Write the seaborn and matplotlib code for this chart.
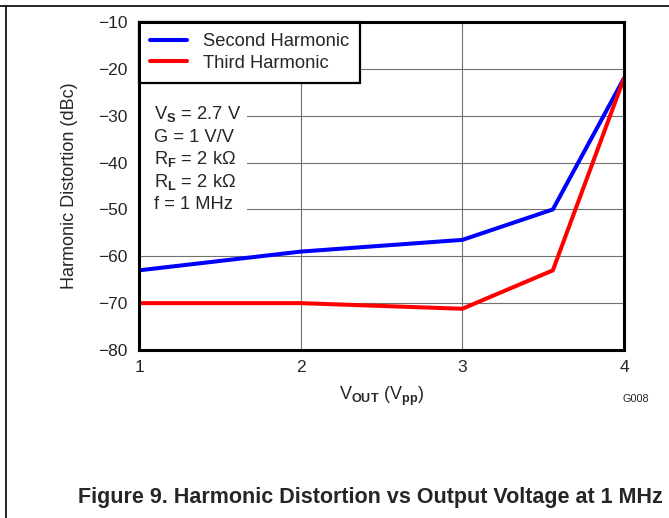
import matplotlib
matplotlib.use("Agg")
import matplotlib.pyplot as plt
import seaborn as sns
import pandas as pd
from matplotlib.lines import Line2D
from matplotlib.patches import Rectangle

# data
vout = [1, 2, 3, 3.56, 4]
second_harm = [-63, -59, -56.5, -50, -22]
third_harm = [-70, -70, -71.2, -63, -22]
x_ticks = [1, 2, 3, 4]
y_ticks = [-80, -70, -60, -50, -40, -30, -20, -10]
conditions = [r"V$_\mathbf{S}$ = 2.7 V", "G = 1 V/V", r"R$_\mathbf{F}$ = 2 k$\Omega$",
              r"R$_\mathbf{L}$ = 2 k$\Omega$", "f = 1 MHz"]

sns.set_style("white")
plt.rcParams["font.family"] = ["Liberation Sans", "DejaVu Sans"]
plt.rcParams["mathtext.fontset"] = "custom"
plt.rcParams["mathtext.rm"] = "Liberation Sans"
plt.rcParams["mathtext.it"] = "Liberation Sans"
plt.rcParams["mathtext.bf"] = "Liberation Sans:bold"

df = pd.DataFrame({"Vout": vout * 2,
                   "dBc": second_harm + third_harm,
                   "series": ["Second Harmonic"] * len(vout) + ["Third Harmonic"] * len(vout)})

fig = plt.figure(figsize=(6.69, 5.18), dpi=100)
ax = fig.add_axes([139 / 669, 1 - 350 / 518, (624 - 139) / 669, (350 - 22) / 518])

sns.lineplot(data=df, x="Vout", y="dBc", hue="series",
             palette={"Second Harmonic": "#0000ff", "Third Harmonic": "#ff0000"},
             linewidth=2.9, ax=ax, legend=False, zorder=3)

ax.set_xlim(1, 4)
ax.set_ylim(-80, -10)
ax.set_xticks(x_ticks)
ax.set_yticks(y_ticks)
ax.set_yticklabels(["\u2212" + str(abs(v)) for v in y_ticks])
ax.tick_params(length=0, labelsize=12.5)
ax.tick_params(axis="y", pad=8)
ax.tick_params(axis="x", pad=7)
ax.grid(True, color="#707070", linewidth=0.8)
for s in ax.spines.values():
    s.set_color("black")
    s.set_linewidth(2.2)
    s.set_zorder(6)

ax.set_xlabel(r"V$_\mathbf{OUT}$ (V$_\mathbf{pp}$)", fontsize=13, labelpad=7)
ax.set_ylabel("Harmonic Distortion (dBc)", fontsize=13, labelpad=15)

handles = [Line2D([], [], color="#0000ff", linewidth=2.9),
           Line2D([], [], color="#ff0000", linewidth=2.9)]
leg = ax.legend(handles, ["Second Harmonic", "Third Harmonic"], loc="upper left",
                fontsize=13.2, fancybox=False, framealpha=1, edgecolor="black",
                borderaxespad=0, handlelength=2.0, handletextpad=0.9,
                borderpad=0.6, labelspacing=0.25)
leg.get_frame().set_linewidth(1.6)
leg.set_zorder(5)

# white box behind the test conditions
ax.add_patch(Rectangle((0, (350 - 218) / 328), (247 - 139) / 485, (218 - 98) / 328,
                       transform=ax.transAxes, facecolor="white", edgecolor="none", zorder=2))
baselines = [119, 141.5, 164, 186.5, 209]
for line, b in zip(conditions, baselines):
    ax.text((154 - 139) / 485, (350 - b) / 328, line, transform=ax.transAxes,
            fontsize=13.2, va="baseline", ha="left", zorder=4)

fig.text(636 / 669, 1 - 399 / 518, "G008", fontsize=7.8, ha="center", va="center")
fig.text(370 / 669, 1 - 497 / 518, "Figure 9. Harmonic Distortion vs Output Voltage at 1 MHz",
         fontsize=15.5, fontweight="bold", ha="center", va="center")

# page frame lines
fig.add_artist(Line2D([0, 1], [1 - 6 / 518, 1 - 6 / 518], color="black", linewidth=1.2))
fig.add_artist(Line2D([6 / 669, 6 / 669], [0, 1 - 6 / 518], color="black", linewidth=1.2))

fig.savefig("out.png", dpi=100)
